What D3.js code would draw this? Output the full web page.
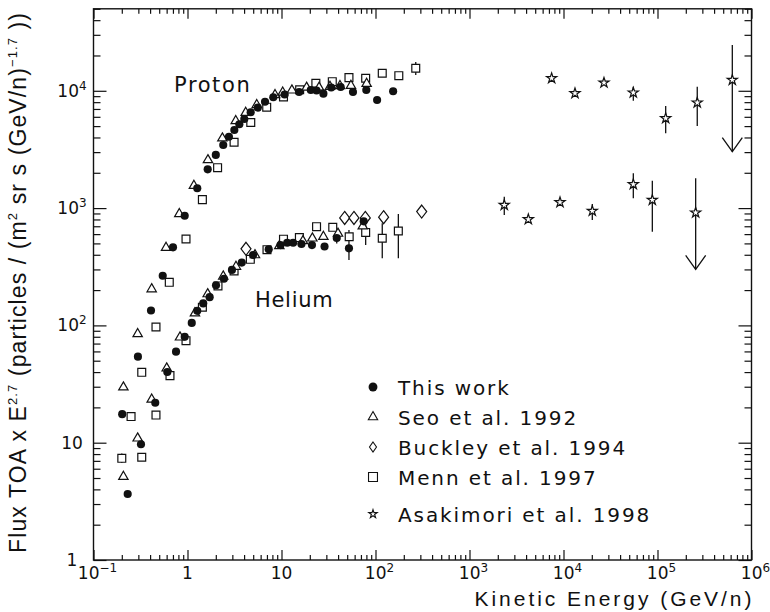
<!DOCTYPE html>
<html>
<head>
<meta charset="utf-8">
<script src="https://cdn.jsdelivr.net/npm/d3@7"></script>
<style>
  body { margin: 0; background: #fff; }
  text { fill: #111; }
</style>
</head>
<body>
<svg id="chart"></svg>
<script>
// values: [kinetic energy GeV/n, flux x E^2.7]
const protonThis = [[0.202,17.5],[0.297,54.1],[0.409,134],[0.545,265],[0.701,463],[0.934,861],[1.27,1475],[1.64,2140],[2.0,2840],[2.4,3450],[2.76,4060],[3.15,4630],[3.56,5180],[4.02,5750],[4.7,6560],[5.59,7180],[6.68,8070],[8.18,8810],[10.8,9300],[15.4,9770],[20.5,10160],[23.6,10060],[27.9,9450],[33.8,10670],[42.6,10770],[57.6,9770],[79.8,10160],[104,8350],[154,9900]];
const protonSeo = [[0.208,29.7],[0.295,84.5],[0.416,204],[0.591,460],[0.818,891],[1.17,1553],[1.65,2570],[2.35,3940],[3.26,5530],[4.16,6510],[5.45,7570],[8.53,9210],[10.3,9680],[12.9,10100],[18.5,10670],[25.1,10670],[32.8,10840],[41.9,10990],[54.8,11050],[80.5,11500]];
const protonMenn = [[0.251,16.7],[0.326,39.8],[0.462,96.9],[0.64,233],[0.964,545],[1.44,1180],[2.09,2210],[3.13,3640],[4.71,5370],[6.96,7250],[10.5,8850],[15.6,10200],[23.2,11590],[34.7,11960],[52.2,12940],[78.6,12790],[118,14100],[177,13450],[268,15560]];
const protonAsak = [[7480,12790],[13250,9520],[26960,11720],[55300,9640],[122200,5830],[264800,7920],[625000,12360]];

const heliumThis = [[0.231,3.65],[0.32,9.69],[0.454,21.9],[0.61,40.1],[0.755,59.7],[0.934,80.1],[1.11,105],[1.27,133],[1.47,154],[1.72,174],[2.01,220],[2.44,250],[2.97,297],[3.78,343],[4.98,398],[7.31,446],[9.75,484],[11.5,507],[13.3,507],[16.3,494],[21.1,484],[28.7,471],[38.7,556],[52.2,454],[74.9,771]];
const heliumSeo = [[0.208,5.13],[0.295,10.9],[0.416,23.4],[0.601,43.1],[0.832,79.2],[1.2,127],[1.64,185],[2.4,262],[3.28,317],[5.22,398],[9.48,475],[16.9,524],[21.3,553],[27.9,570],[39.9,607],[73.2,700]];
const heliumMenn = [[0.2,7.36],[0.326,7.51],[0.462,17.2],[0.651,37.3],[0.964,74.1],[1.44,143],[2.11,217],[3.13,291],[4.66,366],[7.01,442],[10.5,543],[15.5,561],[23.6,694],[35.1,686],[52.5,570],[78.6,620],[118,553],[175,638]];
const heliumBuckley = [[4.19,450],[47,824],[59,824],[77.9,824],[122,836],[310,935]];
const heliumAsak = [[2344,1062],[4225,802],[9180,1120],[20250,945],[55300,1596],[88100,1172],[254700,914]];

// error bars: [energy, low, high]
const errorBars = [[268,13640,17600],[177,12700,14300],[104,7900,8800],[154,9300,10500],
  [0.2,6.7,8.1],[38.7,500,620],[52.2,361,651],[78.6,484,718],[118,373,742],[175,373,891],
  [55300,8240,10840],[122200,4343,7420],[264800,5010,10840],
  [2344,873,1250],[20250,792,1083],[55300,1213,1982],[88100,629,1713]];
// upper limits: [energy, top of bar, arrow tip]
const upperLimits = [[625000,24570,3027],[254700,1795,301]];

const xTickValues = [0.1,1,10,100,1e3,1e4,1e5,1e6];
const xTickLabels = [["10","\u22121"],["1",""],["10",""],["10","2"],["10","3"],["10","4"],["10","5"],["10","6"]];
const yTickValues = [1,10,100,1e3,1e4];
const yTickLabels = [["1",""],["10",""],["10","2"],["10","3"],["10","4"]];

const legendLabels = ["This work","Seo et al. 1992","Buckley et al. 1994","Menn et al. 1997","Asakimori et al. 1998"];

const width = 770, height = 612;
const margin = {top: 8.8, right: 18.5, bottom: 52, left: 93.5};

const svg = d3.select("#chart")
    .attr("width", width)
    .attr("height", height)
    .attr("viewBox", [0, 0, width, height]);

const x = d3.scaleLog().domain([0.1, 1e6]).range([margin.left, width - margin.right]);
const y = d3.scaleLog().domain([1, 5e4]).range([height - margin.bottom, margin.top]);

// minor ticks 2..9 in every decade
const minors = (lo, hi) => {
  const out = [];
  for (let d = lo; d < hi; d *= 10)
    for (let m = 2; m <= 9; m++) if (m * d <= hi * 1.0001) out.push(m * d);
  return out;
};
const xMinor = minors(0.1, 1e6);
const yMinor = minors(1, 5e4);

const axisStyle = g => {
  g.select(".domain").remove();
  g.selectAll("line").attr("stroke", "#111").attr("stroke-width", 1.2);
  g.selectAll("text").remove();
};

const bottomY = height - margin.bottom, topY = margin.top;
const leftX = margin.left, rightX = width - margin.right;

svg.append("g").attr("transform", `translate(0,${bottomY})`)
  .call(d3.axisBottom(x).tickValues(xTickValues).tickSize(-10)).call(axisStyle);
svg.append("g").attr("transform", `translate(0,${bottomY})`)
  .call(d3.axisBottom(x).tickValues(xMinor).tickSize(-5)).call(axisStyle);
svg.append("g").attr("transform", `translate(0,${topY})`)
  .call(d3.axisTop(x).tickValues(xTickValues).tickSize(-10)).call(axisStyle);
svg.append("g").attr("transform", `translate(0,${topY})`)
  .call(d3.axisTop(x).tickValues(xMinor).tickSize(-5)).call(axisStyle);
svg.append("g").attr("transform", `translate(${leftX},0)`)
  .call(d3.axisLeft(y).tickValues(yTickValues).tickSize(-13)).call(axisStyle);
svg.append("g").attr("transform", `translate(${leftX},0)`)
  .call(d3.axisLeft(y).tickValues(yMinor).tickSize(-7)).call(axisStyle);
svg.append("g").attr("transform", `translate(${rightX},0)`)
  .call(d3.axisRight(y).tickValues(yTickValues).tickSize(-13)).call(axisStyle);
svg.append("g").attr("transform", `translate(${rightX},0)`)
  .call(d3.axisRight(y).tickValues(yMinor).tickSize(-7)).call(axisStyle);

svg.append("rect")
  .attr("x", leftX).attr("y", topY)
  .attr("width", rightX - leftX).attr("height", bottomY - topY)
  .attr("fill", "none").attr("stroke", "#111").attr("stroke-width", 1.4);

// tick labels with superscripts
const tickFont = "'DejaVu Sans', sans-serif";
const supLabel = (sel, lab) => {
  sel.append("tspan").text(lab[0]);
  if (lab[1]) sel.append("tspan").attr("dy", -7).attr("font-size", 12).text(lab[1]);
};
xTickValues.forEach((v, i) => {
  const t = svg.append("text")
    .attr("x", x(v) + (xTickLabels[i][1] ? 4 : 0)).attr("y", 579)
    .attr("text-anchor", "middle")
    .attr("font-family", tickFont).attr("font-size", 17);
  supLabel(t, xTickLabels[i]);
});
yTickValues.forEach((v, i) => {
  const t = svg.append("text")
    .attr("x", 72).attr("y", y(v) + 6)
    .attr("text-anchor", "middle")
    .attr("font-family", tickFont).attr("font-size", 17);
  supLabel(t, yTickLabels[i]);
});

// axis titles
svg.append("text")
  .attr("x", rightX).attr("y", 606)
  .attr("text-anchor", "end")
  .attr("font-family", "'Liberation Sans', Arial, sans-serif")
  .attr("font-size", 21)
  .attr("textLength", 277)
  .text("Kinetic Energy (GeV/n)");

const yt = svg.append("text")
  .attr("transform", `translate(26,${283}) rotate(-90)`)
  .attr("text-anchor", "middle")
  .attr("font-family", "'Liberation Sans', Arial, sans-serif")
  .attr("font-size", 23)
  .attr("textLength", 540);
yt.append("tspan").text("Flux TOA x E");
yt.append("tspan").attr("dy", -9).attr("font-size", 13).text("2.7");
yt.append("tspan").attr("dy", 9).text(" (particles / (m");
yt.append("tspan").attr("dy", -9).attr("font-size", 13).text("2");
yt.append("tspan").attr("dy", 9).text(" sr s (GeV/n)");
yt.append("tspan").attr("dy", -9).attr("font-size", 13).text("\u22121.7");
yt.append("tspan").attr("dy", 9).text(" ))");

// curve labels
const labelFont = "'DejaVu Sans', sans-serif";
svg.append("text").attr("x", 174).attr("y", 92)
  .attr("font-family", labelFont).attr("font-size", 21).attr("letter-spacing", 1.6)
  .text("Proton");
svg.append("text").attr("x", 255).attr("y", 307)
  .attr("font-family", labelFont).attr("font-size", 21).attr("letter-spacing", 0.7)
  .text("Helium");

// error bars and upper limits
const marks = svg.append("g").attr("stroke", "#111").attr("stroke-width", 1.3);
marks.selectAll("line.err")
  .data(errorBars)
  .join("line")
  .attr("class", "err")
  .attr("x1", d => x(d[0])).attr("x2", d => x(d[0]))
  .attr("y1", d => y(d[1])).attr("y2", d => y(d[2]));
upperLimits.forEach(d => {
  const px = x(d[0]), top = y(d[1]), tip = y(d[2]);
  marks.append("line").attr("x1", px).attr("x2", px).attr("y1", top).attr("y2", tip);
  marks.append("path").attr("fill", "none")
    .attr("d", `M${px - 10},${tip - 14}L${px},${tip}L${px + 10},${tip - 14}`);
});

// marker shapes
const diamond = (w, h) => `M0,${-h / 2}L${w / 2},0L0,${h / 2}L${-w / 2},0Z`;
const shapes = {
  circle: d3.symbol(d3.symbolCircle, 52)(),
  triangle: d3.symbol(d3.symbolTriangle, 38)(),
  diamond: diamond(10, 13),
  square: d3.symbol(d3.symbolSquare, 62)(),
  star: d3.symbol(d3.symbolStar, 32)()
};
const drawSeries = (data, shape) => {
  svg.append("g").selectAll("path")
    .data(data)
    .join("path")
    .attr("transform", d => `translate(${x(d[0])},${y(d[1])})`)
    .attr("d", shapes[shape])
    .attr("fill", shape === "circle" ? "#111" : "#fff")
    .attr("stroke", "#111")
    .attr("stroke-width", shape === "circle" ? 0 : 1.2);
};
drawSeries(protonMenn, "square");
drawSeries(heliumMenn, "square");
drawSeries(heliumBuckley, "diamond");
drawSeries(protonSeo, "triangle");
drawSeries(heliumSeo, "triangle");
drawSeries(protonThis, "circle");
drawSeries(heliumThis, "circle");
drawSeries(protonAsak, "star");
drawSeries(heliumAsak, "star");

// legend
const legendShapes = [
  d3.symbol(d3.symbolCircle, 62)(),
  d3.symbol(d3.symbolTriangle, 38)(),
  diamond(7, 10),
  d3.symbol(d3.symbolSquare, 80)(),
  d3.symbol(d3.symbolStar, 22)()
];
const legendRows = [387, 417, 447, 477, 514];
const legend = svg.append("g");
legendLabels.forEach((lab, i) => {
  legend.append("path")
    .attr("transform", `translate(373,${legendRows[i]})`)
    .attr("d", legendShapes[i])
    .attr("fill", i === 0 ? "#111" : "#fff")
    .attr("stroke", "#111").attr("stroke-width", i === 0 ? 0 : 1.1);
  legend.append("text")
    .attr("x", 398).attr("y", legendRows[i] + 7.5)
    .attr("font-family", labelFont).attr("font-size", 20).attr("letter-spacing", 1.9)
    .text(lab);
});
</script>
</body>
</html>
